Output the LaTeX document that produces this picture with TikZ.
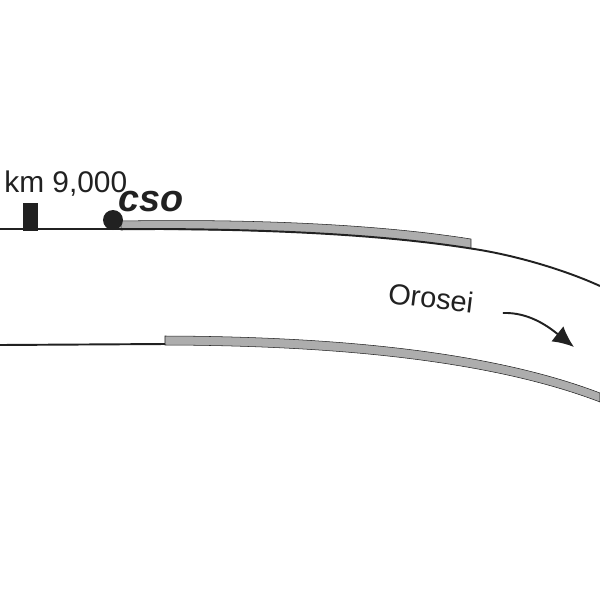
\documentclass[tikz,border=0pt]{standalone}
\usepackage{fontspec}
\setmainfont{Liberation Sans}
\usepackage{tikz}
\usetikzlibrary{arrows.meta}
\definecolor{bandgray}{gray}{0.68}
\definecolor{inkblack}{gray}{0.13}
\tikzset{
  fault/.style={draw=inkblack,line width=1.1pt},
  band/.style={fill=bandgray,draw=inkblack,line width=0.3pt},
  label/.style={text=inkblack,inner sep=0pt,font=\fontsize{17pt}{17pt}\selectfont}
}
\begin{document}
\begin{tikzpicture}[x=0.02cm,y=-0.02cm]
    \useasboundingbox (0,0) rectangle (600,600);
    % upper strand
    \draw[band] (121,221) .. controls (240,219) and (370,223) .. (471,239) -- (471,248.5)
      .. controls (370,232.5) and (240,228.5) .. (121,230) -- cycle;
    \coordinate (upperleft) at (0,229);
    \coordinate (upperright) at (600,286);
    \draw[fault] (upperleft) -- (121,229) .. controls (240,228.5) and (370,232.5) .. (471,248.5)
      .. controls (515,255) and (565,270) .. (upperright);
    % lower strand
    \draw[band] (165,336) .. controls (310,336.5) and (480,347) .. (600,393) -- (600,402)
      .. controls (480,356) and (310,345.5) .. (165,345) -- cycle;
    \coordinate (lowerleft) at (0,345);
    \coordinate (lowerend) at (165,344);
    \draw[fault] (lowerleft) -- (lowerend);
    % markers
    \fill[inkblack] (23,203) rectangle (38,231);
    \fill[inkblack] (113,220) circle[radius=10];
    % labels
    \node[label,anchor=base west] (kmlabel) at (4,192) {km 9,000};
    \node[label,anchor=base west,font=\fontsize{21.5pt}{22pt}\selectfont\bfseries\itshape] (csolabel) at (118,211) {cso};
    \node[label,anchor=base west,rotate=-7,font=\fontsize{16.5pt}{17pt}\selectfont] (oroseilabel) at (387,303) {Orosei};
    % arrow
    \coordinate (arrowstart) at (503,313);
    \coordinate (arrowend) at (574,347);
    \draw[inkblack,line width=1.1pt,-{Latex[length=12pt,width=11pt]}] (arrowstart) .. controls (530,312) and (550,328) .. (arrowend);
\end{tikzpicture}
\end{document}
